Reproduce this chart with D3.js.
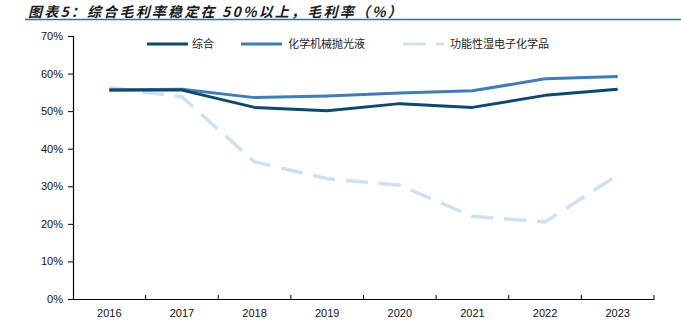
<!DOCTYPE html>
<html><head><meta charset="utf-8">
<script src="https://cdn.jsdelivr.net/npm/d3@7"></script>
<style>
body{margin:0;background:#fff;}
svg{display:block;font-family:"Liberation Sans",Arial,sans-serif;}
</style></head>
<body><svg id="chart" width="681" height="335"></svg>
<script>
const years = ["2016","2017","2018","2019","2020","2021","2022","2023"];
const totalMargin = [55.6, 55.6, 51.0, 50.1, 52.0, 51.0, 54.2, 55.8];
const cmpMargin = [55.6, 55.8, 53.6, 54.0, 54.8, 55.4, 58.6, 59.2];
const wetMargin = [56.3, 53.8, 36.5, 32.0, 30.3, 22.0, 20.5, 33.0];
const yTicks = [0, 10, 20, 30, 40, 50, 60, 70];

const seriesList = [
  {name: "综合", values: totalMargin, color: "#0b4a6e", dash: null, width: 3},
  {name: "化学机械抛光液", values: cmpMargin, color: "#3e7dbd", dash: null, width: 3},
  {name: "功能性湿电子化学品", values: wetMargin, color: "#cfe0f2", dash: "22,11", width: 3.5}
];

const svg = d3.select("#chart");
const m = {left: 73, right: 654, top: 36, bottom: 299};

// title and rule
svg.append("text").attr("x", 28).attr("y", 16.5)
  .attr("font-family", "'Noto Sans CJK SC', sans-serif")
  .attr("font-size", 14).attr("font-weight", "bold").attr("font-style", "italic")
  .attr("letter-spacing", 2.2)
  .attr("fill", "#1a1a1a")
  .text("图表5：综合毛利率稳定在 50%以上，毛利率（%）");
svg.append("line").attr("x1", 25).attr("x2", 681).attr("y1", 19.5).attr("y2", 19.5)
  .attr("stroke", "#3a6f97").attr("stroke-width", 1.5);

const x = d3.scaleBand().domain(years).range([m.left, m.right]);
const y = d3.scaleLinear().domain([0, 70]).range([m.bottom, m.top]);

// axes
const yAxis = svg.append("g").attr("transform", `translate(${m.left},0)`)
  .call(d3.axisLeft(y).tickValues(yTicks).tickFormat(d => d + "%").tickSize(5).tickSizeOuter(5));
const xAxis = svg.append("g").attr("transform", `translate(0,${m.bottom})`)
  .call(d3.axisBottom(x).tickSize(0).tickPadding(10));
// ticks between categories
xAxis.selectAll(".bnd").data(years).enter().append("line")
  .attr("x1", d => x(d) + x.bandwidth()).attr("x2", d => x(d) + x.bandwidth())
  .attr("y1", 0).attr("y2", -4).attr("stroke", "#000");
[yAxis, xAxis].forEach(g => {
  g.select(".domain").attr("stroke", "#000").attr("stroke-width", 1.2);
  g.selectAll(".tick line").attr("stroke", "#000");
  g.selectAll("text").attr("font-size", 11).attr("fill", "#111")
    .attr("font-family", "'Liberation Sans', Arial, sans-serif");
});
yAxis.selectAll("text").attr("dx", "-2");

// lines
const line = d3.line().x((d, i) => x(years[i]) + x.bandwidth() / 2).y(d => y(d));
seriesList.slice().reverse().forEach(s => {
  svg.append("path").datum(s.values).attr("d", line)
    .attr("fill", "none").attr("stroke", s.color).attr("stroke-width", s.width)
    .attr("stroke-dasharray", s.dash).attr("stroke-linejoin", "round");
});

// legend
const legendPos = [{lx: 147, tx: 192}, {lx: 241, tx: 288}, {lx: 403, tx: 450}];
seriesList.forEach((s, i) => {
  const p = legendPos[i];
  svg.append("line").attr("x1", p.lx).attr("x2", p.lx + 41)
    .attr("y1", 44).attr("y2", 44).attr("stroke", s.color).attr("stroke-width", 3)
    .attr("stroke-dasharray", s.dash ? "23,10" : null);
  svg.append("text").attr("x", p.tx).attr("y", 48)
    .attr("font-family", "'Noto Sans CJK SC', sans-serif")
    .attr("font-size", 11).attr("fill", "#222").text(s.name);
});
</script></body></html>
